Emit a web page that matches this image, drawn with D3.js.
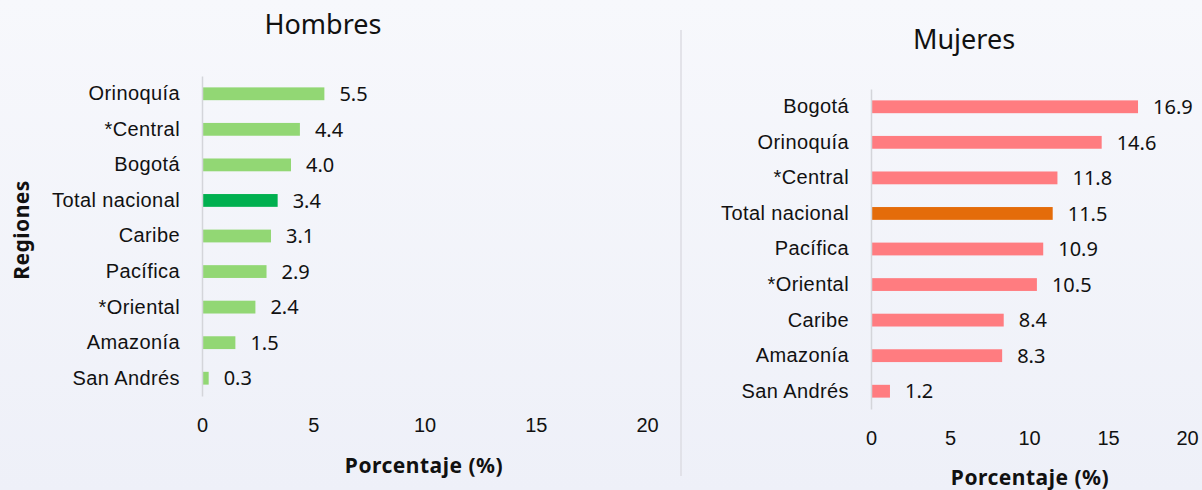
<!DOCTYPE html>
<html>
<head>
<meta charset="utf-8">
<script src="https://cdn.jsdelivr.net/npm/d3@7"></script>
<style>
  body { margin: 0; background: #f3f4fa; }
  svg { display: block; font-family: "Noto Sans", "Open Sans", sans-serif; }
</style>
</head>
<body>
<svg id="chart" width="1202" height="490"></svg>
<script>
const menRegions = ["Orinoquía", "*Central", "Bogotá", "Total nacional", "Caribe", "Pacífica", "*Oriental", "Amazonía", "San Andrés"];
const menValues = [5.5, 4.4, 4.0, 3.4, 3.1, 2.9, 2.4, 1.5, 0.3];
const womenRegions = ["Bogotá", "Orinoquía", "*Central", "Total nacional", "Pacífica", "*Oriental", "Caribe", "Amazonía", "San Andrés"];
const womenValues = [16.9, 14.6, 11.8, 11.5, 10.9, 10.5, 8.4, 8.3, 1.2];
const xTicks = [0, 5, 10, 15, 20];

const svg = d3.select("#chart");

// background gradient
const defs = svg.append("defs");
const grad = defs.append("linearGradient").attr("id", "bg").attr("x1", 0).attr("y1", 0).attr("x2", 0).attr("y2", 1);
grad.append("stop").attr("offset", "0%").attr("stop-color", "#f7f8fc");
grad.append("stop").attr("offset", "100%").attr("stop-color", "#eef0f8");
svg.append("rect").attr("width", 1202).attr("height", 490).attr("fill", "url(#bg)");

// divider
svg.append("line")
  .attr("x1", 681).attr("x2", 681).attr("y1", 30).attr("y2", 476)
  .attr("stroke", "#dcdde3").attr("stroke-width", 1.5);

function panel(opts) {
  const data = opts.regions.map((r, i) => ({ region: r, value: opts.values[i] }));

  const x = d3.scaleLinear().domain([0, 20]).range([opts.x0, opts.x1]);
  const y = d3.scaleBand().domain(opts.regions).range([opts.yTop, opts.yBot]).paddingInner(0.64).paddingOuter(0.32);

  const g = svg.append("g");

  // title
  g.append("text")
    .attr("x", opts.titleX).attr("y", opts.titleY)
    .attr("text-anchor", "middle")
    .attr("font-size", 27).attr("fill", "#111")
    .text(opts.title);

  // bars
  g.selectAll("rect.bar")
    .data(data)
    .enter().append("rect")
      .attr("class", "bar")
      .attr("x", x(0))
      .attr("y", d => y(d.region))
      .attr("width", d => x(d.value) - x(0))
      .attr("height", y.bandwidth())
      .attr("fill", d => d.region === "Total nacional" ? opts.totalColor : opts.color);

  // value labels
  g.selectAll("text.val")
    .data(data)
    .enter().append("text")
      .attr("class", "val")
      .attr("x", d => x(d.value) + 15)
      .attr("y", d => y(d.region) + y.bandwidth() / 2)
      .attr("dy", "0.36em")
      .attr("font-size", 20).attr("fill", "#111")
      .text(d => d.value.toFixed(1));

  // y axis
  const yAxis = d3.axisLeft(y).tickSize(0).tickPadding(22);
  const yAxisG = g.append("g").attr("transform", `translate(${x(0)},0)`).call(yAxis);
  yAxisG.select(".domain").attr("stroke", "#d4d5da").attr("stroke-width", 1.5);
  yAxisG.selectAll("text").attr("font-size", 20).attr("letter-spacing", 0.4)
    .attr("fill", "#111").attr("font-family", null);

  // x axis (labels only)
  const xAxis = d3.axisBottom(x).tickValues(xTicks).tickSize(0).tickPadding(0);
  const xAxisG = g.append("g").attr("transform", `translate(0,${opts.tickY})`).call(xAxis);
  xAxisG.select(".domain").remove();
  xAxisG.selectAll("text").attr("font-size", 20).attr("fill", "#111").attr("font-family", null);

  g.append("text")
    .attr("x", opts.axisTitleX).attr("y", opts.axisTitleY)
    .attr("text-anchor", "middle")
    .attr("font-size", 21).attr("letter-spacing", 0.5)
    .attr("font-weight", "bold").attr("fill", "#111")
    .text("Porcentaje (%)");
}

panel({
  title: "Hombres", titleX: 323, titleY: 34,
  regions: menRegions, values: menValues,
  x0: 202, x1: 647, yTop: 76, yBot: 396,
  tickY: 418, axisTitleX: 424, axisTitleY: 473,
  color: "#92d774", totalColor: "#00b050"
});

panel({
  title: "Mujeres", titleX: 964, titleY: 49,
  regions: womenRegions, values: womenValues,
  x0: 871, x1: 1187, yTop: 89, yBot: 409,
  tickY: 431, axisTitleX: 1030, axisTitleY: 485,
  color: "#ff7c80", totalColor: "#e46c0a"
});

svg.append("text")
  .attr("transform", "translate(29,230) rotate(-90)")
  .attr("text-anchor", "middle")
  .attr("font-size", 21).attr("letter-spacing", 0.5)
  .attr("font-weight", "bold").attr("fill", "#111")
  .text("Regiones");
</script>
</body>
</html>
